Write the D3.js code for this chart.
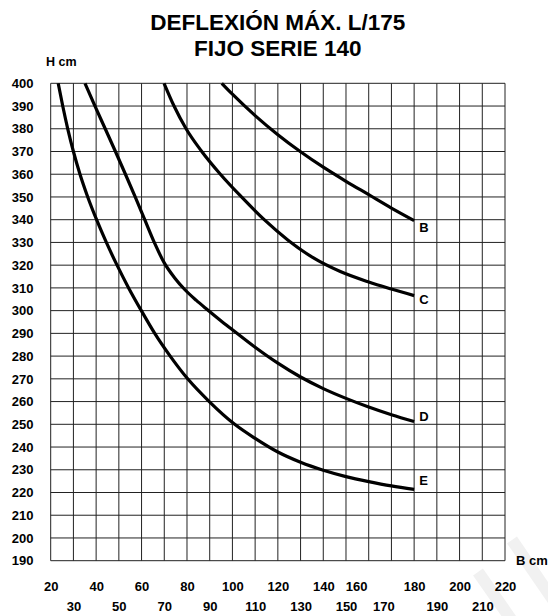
<!DOCTYPE html>
<html>
<head>
<meta charset="utf-8">
<script src="https://cdn.jsdelivr.net/npm/d3@7"></script>
<style>
  html, body { margin: 0; padding: 0; background: #fff; }
  svg { display: block; }
  text { font-family: "Liberation Sans", Arial, sans-serif; font-weight: bold; fill: #000; }
</style>
</head>
<body>
<svg id="chart" width="548" height="616"></svg>
<script>
// ---- data ----
const titleLines = ["DEFLEXIÓN MÁX. L/175", "FIJO SERIE 140"];
const yLabel = "H cm";
const xLabel = "B cm";
const xTicks = d3.range(20, 221, 10);
const yTicks = d3.range(190, 401, 10);
const seriesNames = ["B", "C", "D", "E"];

const bB = [95.3, 100, 110, 120, 130, 140, 150, 160, 170, 180];
const hB = [400, 395.2, 385.8, 377.4, 369.9, 363.1, 356.9, 351.0, 345.1, 339.6];

const bC = [69.9, 74.3, 79.6, 86.5, 94.7, 104, 114, 124.5, 135.5, 147.5, 160, 170, 180];
const hC = [400, 390, 380, 370, 360, 350, 340, 331, 323.3, 317.2, 312.6, 309.5, 306.6];

const bD = [35.1, 39.5, 44.0, 48.5, 52.9, 57.2, 61.4, 65.6, 70, 74.5, 79, 84, 89, 94.5, 100, 110, 120, 130, 140, 150, 160, 170, 180];
const hD = [400, 390, 380, 370, 360, 350, 340, 330, 321, 314.5, 309.3, 304.6, 300.4, 295.9, 291.6, 283.9, 276.9, 270.8, 265.7, 261.4, 257.6, 254.2, 251.2];

const bE = [23.3, 25.3, 27.5, 30.0, 32.9, 36.3, 40.2, 44.5, 49.2, 54.3, 59.9, 65.8, 72.6, 80.3, 89.8, 101, 110, 120, 130, 140, 150, 160, 170, 180];
const hE = [400, 390, 380, 370, 360, 350, 340, 330, 320, 310, 300, 290, 280, 270, 260, 250, 243.8, 237.8, 233.3, 229.8, 227, 224.8, 222.9, 221.4];

// ---- drawing ----
(function draw() {
const svg = d3.select("#chart");
const gL = 50.7, gR = 505, gT = 83.3, gB = 560.7;
const x = d3.scaleLinear().domain([20, 220]).range([gL, gR]);
const y = d3.scaleLinear().domain([190, 400]).range([gB, gT]);

svg.append("rect").attr("width", 548).attr("height", 616).attr("fill", "#fff");

// faint watermark stripes
const wm = svg.append("g").attr("stroke", "#f1f1f1").attr("stroke-width", 12);
wm.append("line").attr("x1", 478).attr("y1", 572).attr("x2", 515).attr("y2", 625);
wm.append("line").attr("x1", 512).attr("y1", 540).attr("x2", 560).attr("y2", 610);

// grid
const grid = svg.append("g").attr("stroke", "#222").attr("stroke-width", 1).attr("fill", "none");
grid.selectAll("line.v").data(xTicks).join("line").attr("class", "v")
  .attr("x1", d => x(d)).attr("x2", d => x(d)).attr("y1", gT).attr("y2", gB);
grid.selectAll("line.h").data(yTicks).join("line").attr("class", "h")
  .attr("y1", d => y(d)).attr("y2", d => y(d)).attr("x1", gL).attr("x2", gR);

const styleText = sel => sel.style("font-size", "13px").style("font-family", "Liberation Sans, Arial, sans-serif")
  .style("font-weight", "bold").attr("fill", "#000");

// y axis labels
const yAxis = d3.axisLeft(y).tickValues(yTicks).tickSize(0).tickPadding(0).tickFormat(d3.format("d"));
const gy = svg.append("g").attr("transform", "translate(33.5,0)").call(yAxis);
gy.select(".domain").remove();
styleText(gy.selectAll("text"));

// x axis labels: two staggered rows
const nudge = {160: -12.5, 170: -8};
const xAxisTop = d3.axisBottom(x).tickValues(xTicks.filter(d => d % 20 === 0)).tickSize(0).tickPadding(0).tickFormat(d3.format("d"));
const xAxisBot = d3.axisBottom(x).tickValues(xTicks.filter(d => d % 20 !== 0)).tickSize(0).tickPadding(0).tickFormat(d3.format("d"));
const gxt = svg.append("g").attr("transform", "translate(0,582)").call(xAxisTop);
const gxb = svg.append("g").attr("transform", "translate(0,602)").call(xAxisBot);
[gxt, gxb].forEach(g => {
  g.select(".domain").remove();
  styleText(g.selectAll("text")).attr("dx", d => nudge[d] || 0);
});

// titles
svg.append("g").selectAll("text").data(titleLines).join("text")
  .attr("x", (gL + gR) / 2).attr("y", (d, i) => 30 + i * 26)
  .attr("text-anchor", "middle").style("font-size", "22.5px").text(d => d);

svg.append("text").attr("x", 46).attr("y", 66).style("font-size", "12.5px").text(yLabel);
svg.append("text").attr("x", 516).attr("y", 565).style("font-size", "13px").text(xLabel);

// curves
const hs = [hB, hC, hD, hE];
const seriesData = [bB, bC, bD, bE].map((bs, i) => bs.map((b, j) => [b, hs[i][j]]));
const line = d3.line().x(d => x(d[0])).y(d => y(d[1])).curve(d3.curveMonotoneX);
svg.append("g").selectAll("path").data(seriesData).join("path")
  .attr("d", line).attr("fill", "none").attr("stroke", "#000").attr("stroke-width", 3.2);

// series labels
const labelDy = {B: 11, C: 8.5, D: -1, E: -4};
svg.append("g").selectAll("text").data(seriesNames).join("text")
  .attr("x", (d, i) => x(seriesData[i][seriesData[i].length - 1][0]) + 5)
  .attr("y", (d, i) => y(seriesData[i][seriesData[i].length - 1][1]) + labelDy[d])
  .style("font-size", "13px").text(d => d);
})();
</script>
</body>
</html>
